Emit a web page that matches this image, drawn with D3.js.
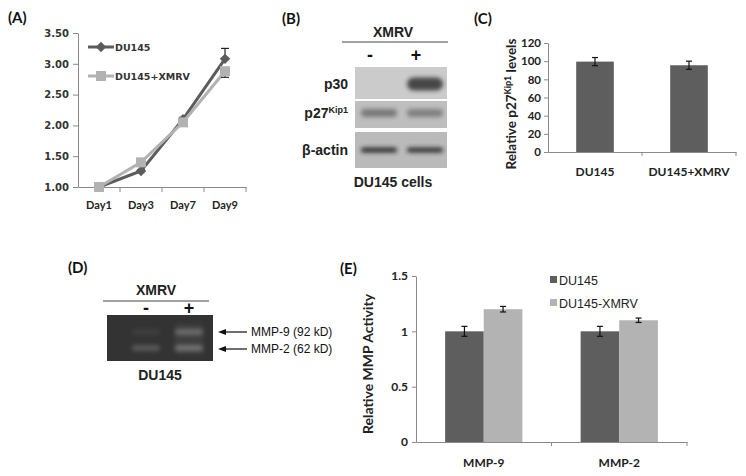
<!DOCTYPE html>
<html>
<head>
<meta charset="utf-8">
<script src="https://cdn.jsdelivr.net/npm/d3@7"></script>
<style>
  body { margin: 0; background: #fff; }
  svg { display: block; }
  .lbl { font-family: Lato, "Open Sans", sans-serif; font-weight: bold; fill: #222; }
  .arial { font-family: "Liberation Sans", Arial, sans-serif; }
  .axis path, .axis line { stroke: #8a8a8a; }
</style>
</head>
<body>
<svg id="fig" width="746" height="476"></svg>
<script>
// ---- data ----
var days = ["Day1", "Day3", "Day7", "Day9"];
var growthDU145 = [1.00, 1.26, 2.10, 3.08];
var growthDU145Err = [0, 0.02, 0.03, 0.17];
var growthXMRV = [1.00, 1.40, 2.05, 2.88];
var growthXMRVErr = [0, 0.02, 0.03, 0.10];
var growthTicks = [1.0, 1.5, 2.0, 2.5, 3.0, 3.5];

var blotLanes = ["-", "+"];
var blotRows = ["p30", "p27", "β-actin"];
var blotIntensity = { "p30": [0.0, 0.8], "p27": [0.45, 0.4], "β-actin": [0.95, 0.92] };

var p27Groups = ["DU145", "DU145+XMRV"];
var p27Values = [99.5, 95.5];
var p27Err = [4.5, 4.5];
var p27Ticks = [0, 20, 40, 60, 80, 100, 120];

var gelBands = ["MMP-9 (92 kD)", "MMP-2 (62 kD)"];
var gelIntensity = { "MMP-9 (92 kD)": [0.07, 0.3], "MMP-2 (62 kD)": [0.24, 0.34] };

var mmpGroups = ["MMP-9", "MMP-2"];
var mmpSeries = ["DU145", "DU145-XMRV"];
var mmpDU145 = [1.0, 1.0];
var mmpDU145Err = [0.045, 0.045];
var mmpXMRV = [1.2, 1.1];
var mmpXMRVErr = [0.025, 0.02];
var mmpTicks = [0, 0.5, 1, 1.5];

var svg = d3.select("#fig");
var defs = svg.append("defs");
defs.append("filter").attr("id", "blur").attr("x", "-50%").attr("y", "-100%").attr("width", "200%").attr("height", "300%")
  .append("feGaussianBlur").attr("stdDeviation", 2.2);
defs.append("filter").attr("id", "blur2").attr("x", "-50%").attr("y", "-100%").attr("width", "200%").attr("height", "300%")
  .append("feGaussianBlur").attr("stdDeviation", 2.8);

function panelLetter(txt, x, y) {
  svg.append("text").attr("class", "lbl").attr("x", x).attr("y", y)
    .style("font-size", "15px").style("fill", "#111").text(txt);
}

function errBar(g, cx, yTop, yBot, w, color) {
  g.append("line").attr("x1", cx).attr("x2", cx).attr("y1", yTop).attr("y2", yBot).attr("stroke", color).attr("stroke-width", 1.2);
  g.append("line").attr("x1", cx - w).attr("x2", cx + w).attr("y1", yTop).attr("y2", yTop).attr("stroke", color).attr("stroke-width", 1.2);
  g.append("line").attr("x1", cx - w).attr("x2", cx + w).attr("y1", yBot).attr("y2", yBot).attr("stroke", color).attr("stroke-width", 1.2);
}

// ---- (A) growth curve ----
panelLetter("(A)", 8, 23);
var gA = svg.append("g");
var xA = d3.scaleBand().domain(days).range([78, 246]);
var yA = d3.scaleLinear().domain([1, 3.5]).range([187, 33]);

var axA = gA.append("g").attr("class", "axis").attr("transform", "translate(78,0)")
  .call(d3.axisLeft(yA).tickValues(growthTicks).tickFormat(d3.format(".2f")).tickSize(5).tickSizeOuter(0));
axA.selectAll("text").style("font-family", "DejaVu Sans").style("font-weight", "bold").style("font-size", "10px").attr("fill", "#333").attr("x", -9);
var axAx = gA.append("g").attr("class", "axis").attr("transform", "translate(0,187)")
  .call(d3.axisBottom(xA).tickSize(0).tickSizeOuter(0));
axAx.selectAll("text").attr("class", "lbl").style("font-size", "11px").attr("dy", "1.7em");
gA.selectAll(".xbound").data(days.slice(1).concat(["end"])).enter().append("line")
  .attr("x1", function(d, i) { return 78 + xA.bandwidth() * (i + 1); })
  .attr("x2", function(d, i) { return 78 + xA.bandwidth() * (i + 1); })
  .attr("y1", 187).attr("y2", 192).attr("stroke", "#8a8a8a");

var lineA = d3.line().x(function(d, i) { return xA(days[i]) + xA.bandwidth() / 2; }).y(function(d) { return yA(d); });
var cA = "#5c5c5c", cB = "#b2b2b2";

gA.append("path").attr("d", lineA(growthDU145)).attr("fill", "none").attr("stroke", cA).attr("stroke-width", 3);
growthDU145.forEach(function(v, i) {
  var cx = xA(days[i]) + xA.bandwidth() / 2;
  if (growthDU145Err[i] > 0) errBar(gA, cx, yA(v + growthDU145Err[i]), yA(v), 4, "#222");
});
gA.selectAll(".dA").data(growthDU145).enter().append("path")
  .attr("d", d3.symbol().type(d3.symbolDiamond2).size(70))
  .attr("transform", function(d, i) { return "translate(" + (xA(days[i]) + xA.bandwidth() / 2) + "," + yA(d) + ")"; })
  .attr("fill", cA);

gA.append("path").attr("d", lineA(growthXMRV)).attr("fill", "none").attr("stroke", cB).attr("stroke-width", 3);
growthXMRV.forEach(function(v, i) {
  var cx = xA(days[i]) + xA.bandwidth() / 2;
  if (growthXMRVErr[i] > 0) errBar(gA, cx, yA(v), yA(v - growthXMRVErr[i]), 4, "#333");
});
gA.selectAll(".sA").data(growthXMRV).enter().append("rect")
  .attr("x", function(d, i) { return xA(days[i]) + xA.bandwidth() / 2 - 5; })
  .attr("y", function(d) { return yA(d) - 5; })
  .attr("width", 10).attr("height", 10).attr("fill", cB);

// legend A
var legA = [{ name: "DU145", c: cA, sym: "d" }, { name: "DU145+XMRV", c: cB, sym: "s" }];
legA.forEach(function(l, i) {
  var ly = 47 + i * 29;
  gA.append("line").attr("x1", 88).attr("x2", 114).attr("y1", ly).attr("y2", ly).attr("stroke", l.c).attr("stroke-width", 3);
  if (l.sym === "d") {
    gA.append("path").attr("d", d3.symbol().type(d3.symbolDiamond2).size(70)).attr("transform", "translate(101," + ly + ")").attr("fill", l.c);
  } else {
    gA.append("rect").attr("x", 96).attr("y", ly - 5).attr("width", 10).attr("height", 10).attr("fill", l.c);
  }
  gA.append("text").attr("x", 115).attr("y", ly + 4).style("font-family", "DejaVu Sans").style("font-weight", "bold")
    .style("font-size", "9.5px").attr("fill", "#333").text(l.name);
});

// ---- (B) western blot ----
panelLetter("(B)", 282, 24);
var gB = svg.append("g").attr("class", "arial");
var laneB = d3.scaleBand().domain(blotLanes).range([355, 447]);
var rowB = d3.scaleOrdinal().domain(blotRows).range([[67, 99], [101, 128], [132, 168]]);
var rowBg = { "p30": "#cbcbcb", "p27": "#bebebe", "β-actin": "#bababa" };
var bandY = { "p30": 84, "p27": 113, "β-actin": 150 };
var bandH = { "p30": 13, "p27": 8, "β-actin": 5 };

gB.append("text").attr("x", 393).attr("y", 37).attr("text-anchor", "middle").style("font-weight", "bold").style("font-size", "14px").attr("fill", "#222").text("XMRV");
gB.append("line").attr("x1", 342).attr("x2", 448).attr("y1", 42).attr("y2", 42).attr("stroke", "#444").attr("stroke-width", 1.2);
blotLanes.forEach(function(l) {
  gB.append("text").attr("x", laneB(l) + laneB.bandwidth() / 2 - 8).attr("y", 61).attr("text-anchor", "middle")
    .style("font-weight", "bold").style("font-size", "18px").attr("fill", "#111").text(l);
});
blotRows.forEach(function(r) {
  var yr = rowB(r);
  gB.append("rect").attr("x", 355).attr("y", yr[0]).attr("width", 92).attr("height", yr[1] - yr[0]).attr("fill", rowBg[r]);
  blotLanes.forEach(function(l, j) {
    var a = blotIntensity[r][j];
    if (a <= 0) return;
    gB.append("rect").attr("x", laneB(l) + 6).attr("y", bandY[r] - bandH[r] / 2)
      .attr("width", laneB.bandwidth() - 10).attr("height", bandH[r]).attr("rx", bandH[r] / 2)
      .attr("fill", "#262626").attr("opacity", a).attr("filter", "url(#blur)");
  });
  var lab = gB.append("text").attr("x", 348).attr("y", bandY[r] + 5).attr("text-anchor", "end")
    .style("font-weight", "bold").style("font-size", "14px").attr("fill", "#222");
  if (r === "p27") {
    lab.text("p27");
    lab.append("tspan").attr("dy", -5).style("font-size", "9px").text("Kip1");
  } else {
    lab.text(r);
  }
});
gB.append("text").attr("x", 393).attr("y", 187).attr("text-anchor", "middle").style("font-weight", "bold").style("font-size", "14px").attr("fill", "#222").text("DU145 cells");

// ---- (C) p27 quantification ----
panelLetter("(C)", 474, 24);
var gC = svg.append("g");
var xC = d3.scaleBand().domain(p27Groups).range([548, 736]);
var yC = d3.scaleLinear().domain([0, 120]).range([152, 43]);
var axC = gC.append("g").attr("class", "axis").attr("transform", "translate(548,0)")
  .call(d3.axisLeft(yC).tickValues(p27Ticks).tickSize(4).tickSizeOuter(0));
axC.selectAll("text").attr("class", "lbl").style("font-size", "11.5px").attr("x", -7);
var axCx = gC.append("g").attr("class", "axis").attr("transform", "translate(0,152)")
  .call(d3.axisBottom(xC).tickSize(0).tickSizeOuter(0));
axCx.selectAll("text").attr("class", "lbl").style("font-size", "12px").attr("dy", "1.75em");
[1, 2].forEach(function(i) {
  var bx = 548 + xC.bandwidth() * i;
  gC.append("line").attr("x1", bx).attr("x2", bx).attr("y1", 152).attr("y2", 156).attr("stroke", "#8a8a8a");
});
var bwC = xC.bandwidth() * 0.4;
gC.selectAll(".barC").data(p27Values).enter().append("rect")
  .attr("x", function(d, i) { return xC(p27Groups[i]) + xC.bandwidth() / 2 - bwC / 2; })
  .attr("y", function(d) { return yC(d); })
  .attr("width", bwC).attr("height", function(d) { return 152 - yC(d); })
  .attr("fill", "#5e5e5e");
p27Values.forEach(function(v, i) {
  errBar(gC, xC(p27Groups[i]) + xC.bandwidth() / 2, yC(v + p27Err[i]), yC(v - p27Err[i]), 3, "#111");
});
var ylC = gC.append("text").attr("class", "lbl").attr("transform", "translate(516,104) rotate(-90)")
  .attr("text-anchor", "middle").style("font-size", "13.5px");
ylC.append("tspan").text("Relative p27");
ylC.append("tspan").attr("dy", -5).style("font-size", "9px").text("Kip1");
ylC.append("tspan").attr("dy", 5).text(" levels");

// ---- (D) zymography gel ----
panelLetter("(D)", 68, 273);
var gD = svg.append("g").attr("class", "arial");
var laneD = d3.scalePoint().domain(blotLanes).range([146, 189]);
var bandYD = d3.scaleOrdinal().domain(gelBands).range([332, 348]);
gD.append("text").attr("x", 156).attr("y", 295).attr("text-anchor", "middle").style("font-weight", "bold").style("font-size", "14px").attr("fill", "#222").text("XMRV");
gD.append("line").attr("x1", 103).attr("x2", 209).attr("y1", 301).attr("y2", 301).attr("stroke", "#444").attr("stroke-width", 1.2);
blotLanes.forEach(function(l) {
  gD.append("text").attr("x", laneD(l)).attr("y", 314).attr("text-anchor", "middle")
    .style("font-weight", "bold").style("font-size", "18px").attr("fill", "#111").text(l);
});
gD.append("rect").attr("x", 107).attr("y", 315).attr("width", 106).attr("height", 46).attr("fill", "#333333");
gD.append("rect").attr("x", laneD("+") - 14).attr("y", 324).attr("width", 28).attr("height", 30)
  .attr("fill", "#9a9a9a").attr("opacity", 0.12).attr("filter", "url(#blur2)");
gelBands.forEach(function(b) {
  blotLanes.forEach(function(l, j) {
    gD.append("rect").attr("x", laneD(l) - 14).attr("y", bandYD(b) - 3).attr("width", 28).attr("height", 6).attr("rx", 3)
      .attr("fill", "#d0d0d0").attr("opacity", gelIntensity[b][j]).attr("filter", "url(#blur)");
  });
  var ay = bandYD(b) + (b === gelBands[1] ? 1 : 0);
  gD.append("line").attr("x1", 247).attr("x2", 223).attr("y1", ay).attr("y2", ay).attr("stroke", "#111").attr("stroke-width", 1.2);
  gD.append("path").attr("d", "M218," + ay + " L226," + (ay - 3) + " L226," + (ay + 3) + " Z").attr("fill", "#111");
  gD.append("text").attr("x", 251).attr("y", ay + 4).style("font-size", "12px").attr("fill", "#111").text(b);
});
gD.append("text").attr("x", 160).attr("y", 380).attr("text-anchor", "middle").style("font-weight", "bold").style("font-size", "14px").attr("fill", "#222").text("DU145");

// ---- (E) MMP activity ----
panelLetter("(E)", 340, 274);
var gE = svg.append("g");
var xE = d3.scaleBand().domain(mmpGroups).range([416, 687]);
var xEs = d3.scaleBand().domain(mmpSeries).range([0, xE.bandwidth() * 0.57]);
var yE = d3.scaleLinear().domain([0, 1.5]).range([442, 276]);
var cE = { "DU145": "#5e5e5e", "DU145-XMRV": "#b3b3b3" };
var axE = gE.append("g").attr("class", "axis").attr("transform", "translate(416,0)")
  .call(d3.axisLeft(yE).tickValues(mmpTicks).tickFormat(d3.format("")).tickSize(4).tickSizeOuter(0));
axE.selectAll("text").attr("class", "lbl").style("font-size", "12px").attr("x", -8);
var axEx = gE.append("g").attr("class", "axis").attr("transform", "translate(0,442)")
  .call(d3.axisBottom(xE).tickSize(0).tickSizeOuter(0));
axEx.selectAll("text").attr("class", "lbl").style("font-size", "12px").attr("dy", "1.85em");
[1, 2].forEach(function(i) {
  var bx = 416 + xE.bandwidth() * i;
  gE.append("line").attr("x1", bx).attr("x2", bx).attr("y1", 442).attr("y2", 446).attr("stroke", "#8a8a8a");
});
var mmpVals = { "DU145": mmpDU145, "DU145-XMRV": mmpXMRV };
var mmpErrs = { "DU145": mmpDU145Err, "DU145-XMRV": mmpXMRVErr };
mmpGroups.forEach(function(g, i) {
  var gx = xE(g) + xE.bandwidth() / 2 - xEs.range()[1] / 2;
  mmpSeries.forEach(function(s) {
    var v = mmpVals[s][i];
    gE.append("rect").attr("x", gx + xEs(s)).attr("y", yE(v)).attr("width", xEs.bandwidth()).attr("height", 442 - yE(v)).attr("fill", cE[s]);
    errBar(gE, gx + xEs(s) + xEs.bandwidth() / 2, yE(v + mmpErrs[s][i]), yE(v - mmpErrs[s][i]), 3, "#111");
  });
});
mmpSeries.forEach(function(s, i) {
  var ly = 280 + i * 23;
  gE.append("rect").attr("x", 550).attr("y", ly - 4).attr("width", 7).attr("height", 7).attr("fill", cE[s]);
  gE.append("text").attr("class", "arial").attr("x", 559).attr("y", ly + 5).style("font-size", "12.5px").attr("fill", "#222").text(s);
});
gE.append("text").attr("class", "lbl").attr("transform", "translate(373,364) rotate(-90)")
  .attr("text-anchor", "middle").style("font-size", "14px").text("Relative MMP Activity");
</script>
</body>
</html>
